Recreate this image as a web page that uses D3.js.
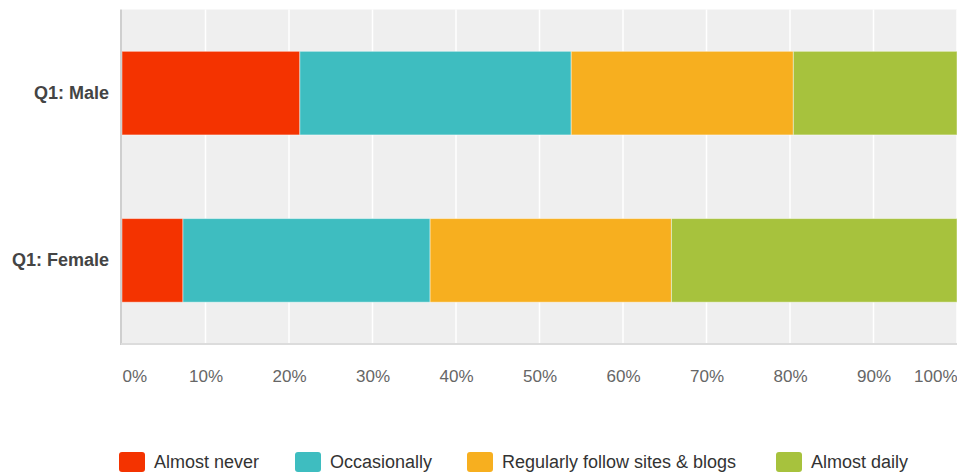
<!DOCTYPE html>
<html>
<head>
<meta charset="utf-8">
<script src="https://cdn.jsdelivr.net/npm/d3@7"></script>
<style>
  html, body { margin: 0; padding: 0; background: #fff; }
  svg { display: block; }
</style>
</head>
<body>
<svg id="chart" width="957" height="474"></svg>
<script>
const categories = ["Q1: Male", "Q1: Female"];
const seriesNames = ["Almost never", "Occasionally", "Regularly follow sites & blogs", "Almost daily"];
const seriesColors = ["#f43300", "#3ebdc0", "#f7af1f", "#a7c23d"];
const almostNever = [21.3, 7.3];
const occasionally = [32.5, 29.6];
const regularly = [26.6, 28.9];
const almostDaily = [19.6, 34.2];
const tickValues = [0, 10, 20, 30, 40, 50, 60, 70, 80, 90, 100];

(function () {
const seriesValues = [almostNever, occasionally, regularly, almostDaily];
const rows = categories.map((c, i) => {
  const r = { cat: c };
  seriesNames.forEach((s, j) => { r[s] = seriesValues[j][i]; });
  return r;
});
const stacked = d3.stack().keys(seriesNames)(rows);

const svg = d3.select("#chart");
const pLeft = 122, pRight = 957, pTop = 9.5, pBottom = 344;

const x = d3.scaleLinear().domain([0, 100]).range([pLeft, pRight]);
const y = d3.scaleBand().domain(categories).range([pTop, pBottom]).paddingInner(0.5).paddingOuter(0.25);

svg.append("rect").attr("x", pLeft).attr("y", pTop).attr("width", pRight - pLeft).attr("height", pBottom - pTop).attr("fill", "#efefef");

svg.append("g").selectAll("line").data(tickValues.slice(1)).join("line")
  .attr("x1", d => x(d)).attr("x2", d => x(d))
  .attr("y1", pTop).attr("y2", pBottom)
  .attr("stroke", "#fff").attr("stroke-width", 1.5);

const color = d3.scaleOrdinal().domain(seriesNames).range(seriesColors);
svg.append("g").selectAll("g").data(stacked).join("g")
  .attr("fill", d => color(d.key))
  .selectAll("rect").data(d => d).join("rect")
  .attr("x", d => x(d[0]))
  .attr("width", d => x(d[1]) - x(d[0]))
  .attr("y", d => y(d.data.cat))
  .attr("height", y.bandwidth())
  .attr("stroke", "rgba(255,255,255,0.45)").attr("stroke-width", 1);

svg.append("line").attr("x1", pLeft - 1).attr("x2", pLeft - 1).attr("y1", pTop).attr("y2", pBottom + 1)
  .attr("stroke", "#cfcfcf").attr("stroke-width", 2);
svg.append("line").attr("x1", pLeft - 1).attr("x2", pRight).attr("y1", pBottom).attr("y2", pBottom)
  .attr("stroke", "#dcdcdc").attr("stroke-width", 2);

const xAxis = d3.axisBottom(x).tickValues(tickValues).tickFormat(d => d + "%").tickSize(0).tickPadding(0);
const gx = svg.append("g").attr("transform", `translate(0,${pBottom})`).call(xAxis);
gx.select(".domain").remove();
gx.selectAll("text")
  .attr("y", 33).attr("dy", "0.32em")
  .attr("fill", "#666")
  .style("font-family", "Liberation Sans, Arial, sans-serif")
  .style("font-size", "17px")
  .attr("text-anchor", d => d === 0 ? "start" : (d === 100 ? "end" : "middle"));

const yAxis = d3.axisLeft(y).tickSize(0).tickPadding(0);
const gy = svg.append("g").attr("transform", `translate(109,0)`).call(yAxis);
gy.select(".domain").remove();
gy.selectAll("text")
  .attr("fill", "#444")
  .style("font-family", "Liberation Sans, Arial, sans-serif")
  .style("font-size", "18px")
  .style("font-weight", "bold");

const legendX = [119, 295, 467, 776];
const lg = svg.append("g").selectAll("g").data(seriesNames).join("g")
  .attr("transform", (d, i) => `translate(${legendX[i]},452)`);
lg.append("rect").attr("width", 26).attr("height", 20).attr("rx", 3)
  .attr("fill", d => color(d));
lg.append("text").attr("x", 35).attr("y", 10).attr("dy", "0.35em")
  .attr("fill", "#333")
  .style("font-family", "Liberation Sans, Arial, sans-serif")
  .style("font-size", "18px")
  .text(d => d);
})();
</script>
</body>
</html>
